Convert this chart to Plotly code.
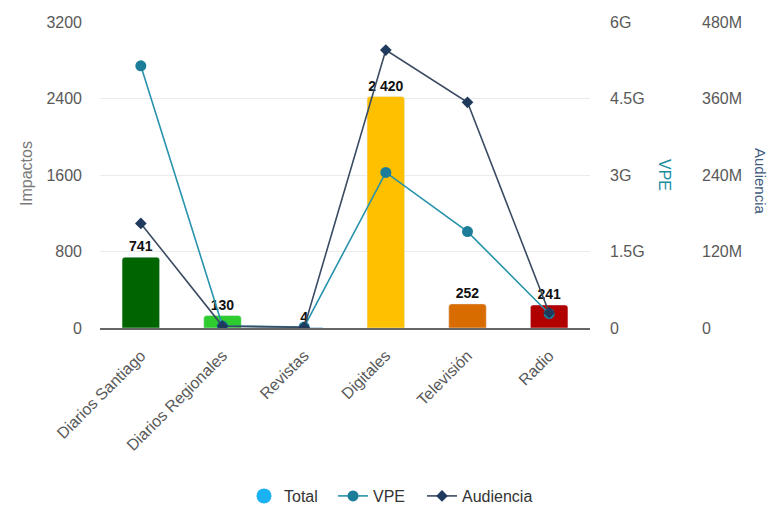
import plotly.graph_objects as go

categories = ["Diarios Santiago", "Diarios Regionales", "Revistas", "Digitales", "Televisión", "Radio"]
impactos = [741, 130, 4, 2420, 252, 241]
bar_colors = ["#006400", "#2ECC2E", "#1F77B4", "#FFC000", "#D96C00", "#B00000"]
vpe = [5.14e9, 0.04e9, 0.02e9, 3.05e9, 1.89e9, 0.28e9]
audiencia = [164e6, 3e6, 1e6, 436e6, 354e6, 24e6]

W, H = 770, 506
# plot area in page pixels
P_LEFT, P_RIGHT, P_TOP, P_BOTTOM = 100, 590, 22, 328
L = P_LEFT
T = P_TOP
R = 6
B = H - P_BOTTOM
pw = W - L - R
ph = H - T - B
xdom_end = (P_RIGHT - P_LEFT) / pw


def px(xpage):
    return (xpage - P_LEFT) / pw


def py(ypage):
    return (P_BOTTOM - ypage) / ph


font_family = "Arial, Liberation Sans, sans-serif"
tick_color = "#595959"
FS = 16

fig = go.Figure()

# legend-only entry for bars
fig.add_trace(go.Scatter(
    x=[categories[0]], y=[None], name="Total", mode="markers",
    marker=dict(symbol="circle", size=15, color="#1AB2F2"),
    legendwidth=44,
))

fig.add_trace(go.Bar(
    x=categories, y=impactos, name="Total", showlegend=False,
    marker=dict(color=bar_colors, cornerradius=3),
    width=0.46,
    text=impactos, texttemplate="<b>%{y:,}</b>", textposition="outside",
    textfont=dict(size=14, color="#111111", family=font_family),
    cliponaxis=False, yaxis="y",
))

fig.add_trace(go.Scatter(
    x=categories, y=vpe, name="VPE", mode="lines+markers", yaxis="y2",
    line=dict(color="#2893AC", width=1.6),
    marker=dict(symbol="circle", size=11, color="#1C7D99"),
    legendwidth=44,
))

fig.add_trace(go.Scatter(
    x=categories, y=audiencia, name="Audiencia", mode="lines+markers", yaxis="y3",
    line=dict(color="#3A4B62", width=1.6),
    marker=dict(symbol="diamond", size=9, color="#1F3A5C"),
))

fig.update_layout(
    width=W, height=H,
    margin=dict(l=L, r=R, t=T, b=B, autoexpand=False),
    paper_bgcolor="white", plot_bgcolor="white",
    separators=". ",
    font=dict(family=font_family, size=FS, color=tick_color),
    xaxis=dict(
        type="category", categoryorder="array", categoryarray=categories,
        domain=[0, xdom_end], tickangle=-45, showgrid=False,
        showline=True, linecolor="#666666", linewidth=2,
        tickfont=dict(size=FS, color=tick_color), ticks="", automargin=False,
        ticklabelstandoff=10,
    ),
    yaxis=dict(
        range=[0, 3200], tickvals=[0, 800, 1600, 2400, 3200], tickformat="d",
        showgrid=True, gridcolor="#EBEBEB", gridwidth=1, zeroline=False,
        ticks="", ticklabelstandoff=17, automargin=False,
        tickfont=dict(size=FS, color=tick_color),
    ),
    yaxis2=dict(
        overlaying="y", side="right", anchor="x",
        range=[0, 6e9], tickvals=[0, 1.5e9, 3e9, 4.5e9, 6e9], tickformat="~s",
        showgrid=False, zeroline=False, ticks="", ticklabelstandoff=19, automargin=False,
        tickfont=dict(size=FS, color=tick_color),
    ),
    yaxis3=dict(
        overlaying="y", side="right", anchor="free", position=px(697),
        range=[0, 480e6], tickvals=[0, 120e6, 240e6, 360e6, 480e6], tickformat="~s",
        showgrid=False, zeroline=False, ticks="", ticklabelstandoff=4, automargin=False,
        tickfont=dict(size=FS, color=tick_color),
    ),
    legend=dict(
        orientation="h", x=px(244), xanchor="left",
        y=py(496), yanchor="middle",
        font=dict(size=FS, color="#333333"),
        itemwidth=30,
    ),
    annotations=[
        dict(text="Impactos", x=px(26), y=py(174), xanchor="center", yanchor="middle",
             xref="paper", yref="paper", textangle=-90, showarrow=False,
             font=dict(size=FS, color="#7A7A7A")),
        dict(text="VPE", x=px(665), y=py(175), xanchor="center", yanchor="middle",
             xref="paper", yref="paper", textangle=90, showarrow=False,
             font=dict(size=FS, color="#1A8CA0")),
        dict(text="Audiencia", x=px(760), y=py(181), xanchor="center", yanchor="middle",
             xref="paper", yref="paper", textangle=90, showarrow=False,
             font=dict(size=FS - 1, color="#3D5A80")),
    ],
)

fig.write_html(
    "out.html",
    config={"displayModeBar": False},
    post_script="document.body.style.margin='0px';document.body.style.overflow='hidden';",
)
